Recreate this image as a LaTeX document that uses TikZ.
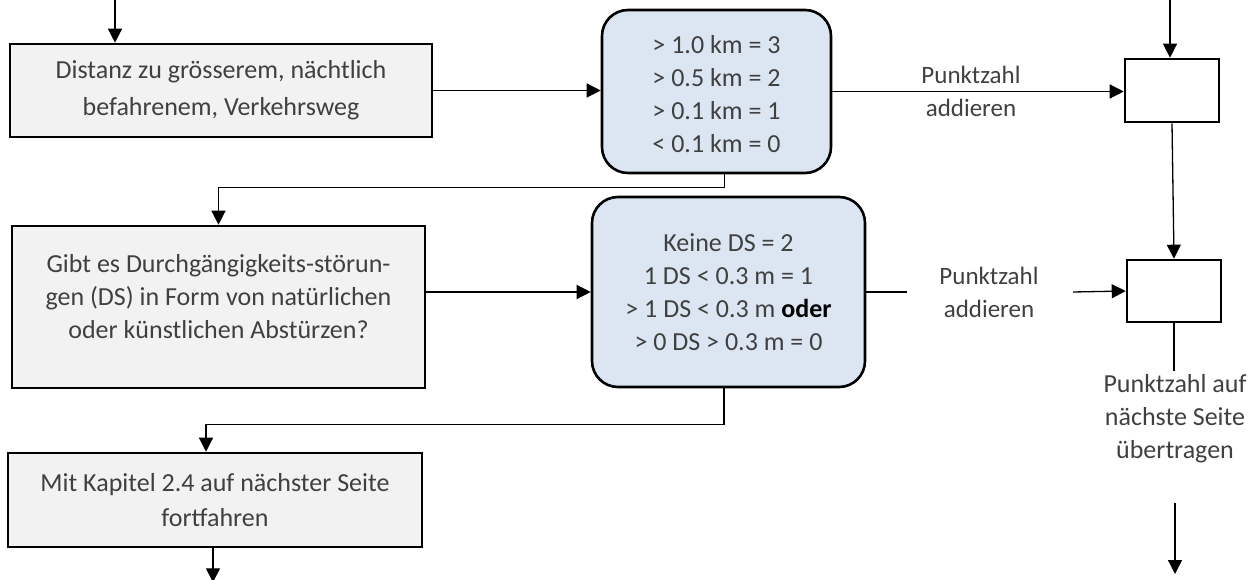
\documentclass[tikz,border=0pt]{standalone}
\usepackage{fontspec}
\setmainfont{Carlito}
\usetikzlibrary{arrows.meta}
\definecolor{txt}{HTML}{404040}
\definecolor{boxgray}{HTML}{F2F2F2}
\definecolor{boxblue}{HTML}{DCE6F2}

\begin{document}
\begin{tikzpicture}[x=1pt,y=-1pt,
  every node/.style={text=txt, align=center, inner sep=0pt,
    font=\fontsize{26}{33}\selectfont},
  graybox/.style={draw=black, line width=2.6pt, fill=boxgray, rectangle},
  bluebox/.style={draw=black, line width=2.6pt, fill=boxblue, rectangle,
    rounded corners=26pt},
  sumbox/.style={draw=black, line width=2.6pt, fill=white, rectangle},
  label/.style={font=\fontsize{25}{33}\selectfont},
  conn/.style={draw=black, line width=1.3pt},
  arr/.style={conn, -{Triangle[length=14pt,width=14pt]}}
]
\useasboundingbox (0,0) rectangle (1260,580);

% question boxes on the left
\node[graybox, minimum width=422pt, minimum height=93pt,
  font=\fontsize{26}{37}\selectfont] (dist) at (221,90.5)
  {Distanz zu grösserem, nächtlich\\befahrenem, Verkehrsweg};
\node[graybox, minimum width=413pt, minimum height=162pt, text depth=21pt]
  (gibt) at (218.5,307)
  {Gibt es Durchgängigkeits-störun-\\gen (DS) in Form von natürlichen\\oder künstlichen Abstürzen?};
\node[graybox, minimum width=414pt, minimum height=94pt,
  font=\fontsize{26}{35}\selectfont] (mit) at (215,500)
  {Mit Kapitel 2.4 auf nächster Seite\\fortfahren};

% scoring tables
\node[bluebox, minimum width=229pt, minimum height=163pt] (r1) at (716.5,91.5)
  {\strut> 1.0 km = 3\\> 0.5 km = 2\\> 0.1 km = 1\\< 0.1 km = 0};
\node[bluebox, minimum width=273pt, minimum height=190pt] (r2) at (728.5,292)
  {Keine DS = 2\\1 DS < 0.3 m = 1\\> 1 DS < 0.3 m \textcolor{black}{\textbf{oder}}\\> 0 DS > 0.3 m = 0};

% score boxes on the right
\node[sumbox, minimum width=94pt, minimum height=63pt] (p1) at (1172,90.5) {};
\node[sumbox, minimum width=94pt, minimum height=62pt] (p2) at (1174,291) {};

% labels
\node[label] (lab1) at (971,91) {Punktzahl\\addieren};
\node[label] (lab2) at (989,292) {Punktzahl\\addieren};
\node (lab3) at (1175,419) {Punktzahl auf\\nächste Seite\\übertragen};

% free ends
\coordinate (in1) at (115,0);
\coordinate (in2) at (1170,0);
\coordinate (e1) at (907,292);
\coordinate (s2) at (1073,292);
\coordinate (e3) at (1174,371);
\coordinate (s4) at (1175,503);
\coordinate (e4) at (1175,574);

% connectors
\draw[arr] (in1) -- (in1 |- dist.north);
\draw[arr] (in2) -- (in2 |- p1.north);
\draw[arr] (dist.east) -- (dist.east -| r1.west);
\draw[arr] (r1.east) -- (r1.east -| p1.west);
\draw[arr] ([xshift=8pt]r1.south) -- ++(0,13) -| (gibt.north);
\draw[arr] (gibt.east |- r2.west) -- (r2.west);
\draw[conn] (r2.east) -- (e1);
\draw[arr] (s2) -- (p2.west);
\draw[arr] (p1.south) -- (p2.north);
\draw[conn] (p2.south) -- (e3);
\draw[arr] (s4) -- (e4);
\draw[arr] ([xshift=-4.5pt]r2.south) -- ++(0,36) -| ([xshift=-9pt]mit.north);
\draw[arr] ([xshift=-2pt]mit.south) -- ++(0,34);
\end{tikzpicture}
\end{document}
